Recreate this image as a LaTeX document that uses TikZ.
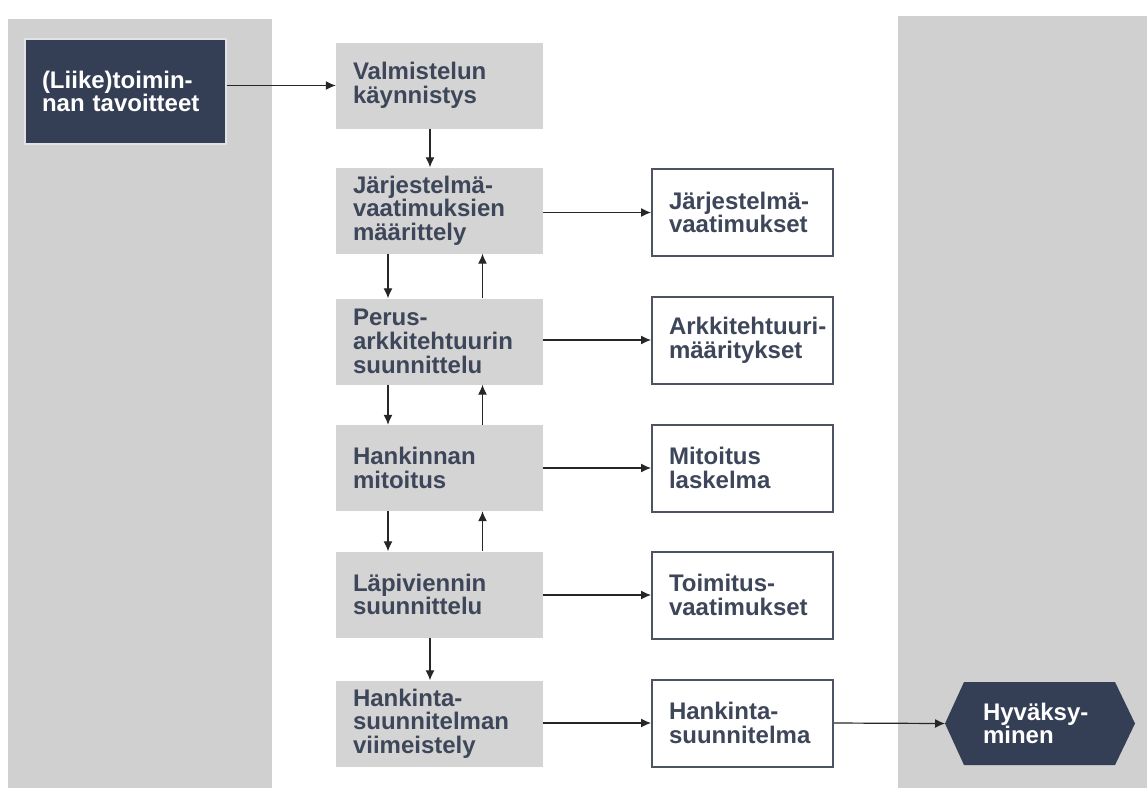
\documentclass[tikz,border=0pt]{standalone}
\usepackage{fontspec}
\setmainfont{Liberation Sans}
\usetikzlibrary{arrows.meta}
\definecolor{panelgray}{RGB}{208,208,208}
\definecolor{boxgray}{RGB}{212,212,212}
\definecolor{navy}{RGB}{52,63,86}
\definecolor{slate}{RGB}{62,70,90}
\definecolor{frame}{RGB}{78,83,97}
\tikzset{>={Latex[length=10pt,width=9pt]}}
\tikzset{
  boxfont/.style={font=\bfseries\fontsize{24}{23.7}\selectfont},
  goal/.style={boxfont, fill=navy, draw=white!85!navy, line width=1.5pt, text=white,
    minimum height=105pt, text width=167pt, inner xsep=17pt, align=left},
  phase/.style={boxfont, fill=boxgray, text=slate, minimum height=86pt,
    text width=173pt, inner xsep=17pt, align=left},
  outbox/.style={boxfont, fill=white, draw=frame, line width=2pt, text=slate,
    minimum height=87pt, text width=172pt, inner xsep=4.5pt, align=left,
    execute at begin node={\leftskip=12.5pt}},
  link/.style={->, line width=1.2pt, black!85}
}

\begin{document}
\begin{tikzpicture}[x=1pt,y=-1pt]
  \useasboundingbox (0,0) rectangle (1147,788);
  \fill[panelgray] (8,19) rectangle (272,788);
  \fill[panelgray] (898,16) rectangle (1147,788);

  \node[goal] (lt) at (125.5,91.5) {(Liike)toimin-\\nan tavoitteet};

  \node[phase] (vk) at (439.5,85.5) {Valmistelun\\käynnistys};
  \node[phase] (jm) at (439.5,210.5) {Järjestelmä-\\vaatimuksien\\määrittely};
  \node[phase] (pa) at (439.5,341.5) {Perus-\\arkkitehtuurin\\suunnittelu};
  \node[phase] (hm) at (439.5,468) {Hankinnan\\mitoitus};
  \node[phase] (ls) at (439.5,594.5) {Läpiviennin\\suunnittelu};
  \node[phase] (hv) at (439.5,723.5) {Hankinta-\\suunnitelman\\viimeistely};

  \node[outbox] (jv) at (742.5,212.5) {Järjestelmä-\\vaatimukset};
  \node[outbox] (am) at (742.5,340) {Arkkitehtuuri-\\määritykset};
  \node[outbox] (ml) at (742.5,468) {Mitoitus\\laskelma};
  \node[outbox] (tv) at (742.5,595) {Toimitus-\\vaatimukset};
  \node[outbox] (hs) at (742.5,723) {Hankinta-\\suunnitelma};

  \coordinate (hyw) at (945,723.5);
  \fill[navy] (hyw) -- (964,682) -- (1115,682) -- (1135,723.5) -- (1115,765) -- (964,765) -- cycle;
  \node[boxfont, text=white, text width=114pt, inner sep=0pt, align=left] (hy) at (1040,723.5) {Hyväksy-\\minen};

  \draw[link] (vk.west -| lt.east) -- (vk.west);
  \draw[link] ([xshift=-9.5pt]vk.south) -- ([xshift=-9.5pt]jm.north);
  \foreach \a/\b in {jm/pa,pa/hm,hm/ls} {
    \draw[link] ([xshift=-51.5pt]\a.south) -- ([xshift=-51.5pt]\b.north);
    \draw[link] ([xshift=43pt]\b.north) -- ([xshift=43pt]\a.south);
  }
  \draw[link] ([xshift=-9.5pt]ls.south) -- ([xshift=-9.5pt]hv.north);
  \foreach \a/\b in {jm/jv,pa/am,hm/ml,ls/tv,hv/hs}
    \draw[link] (\b.west -| \a.east) -- (\b.west);
  \draw[link] (hs.east) -- (hyw);
\end{tikzpicture}
\end{document}
